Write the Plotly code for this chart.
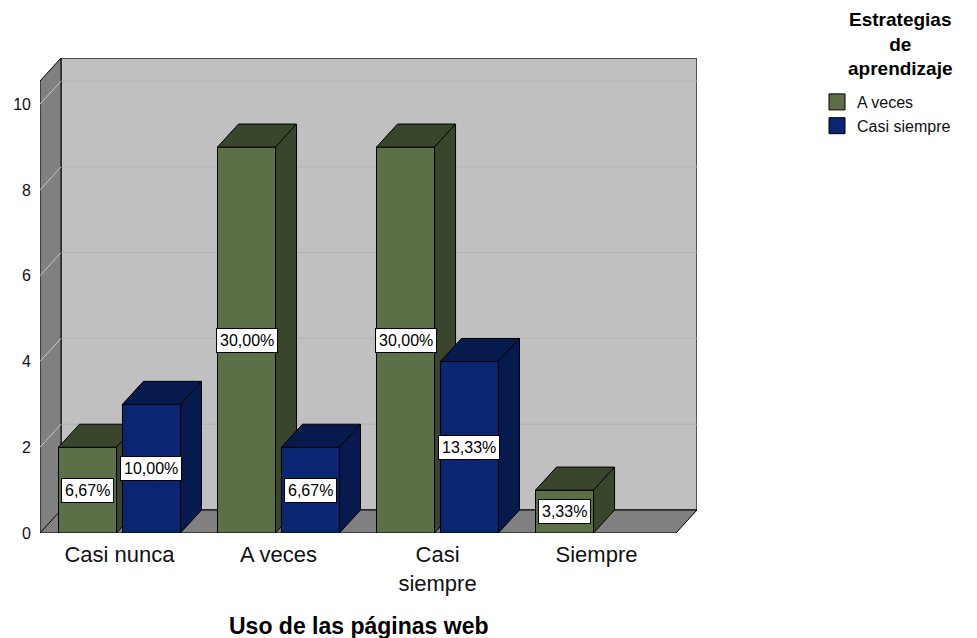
import plotly.graph_objects as go

# ---- data ----
categories = ["Casi nunca", "A veces", "Casi siempre", "Siempre"]
tick_labels = ["Casi nunca", "A veces", "Casi<br>siempre", "Siempre"]
series_names = ["A veces", "Casi siempre"]
a_veces = [2, 9, 9, 1]
casi_siempre = [3, 2, 4, 0]
y_ticks = [0, 2, 4, 6, 8, 10]
x_title = "Uso de las páginas web"
legend_title = "Estrategias<br>de<br>aprendizaje"

# ---- style ----
front_colors = ["#5B7046", "#0A2673"]
dark_colors = ["#3A462C", "#061A4E"]
WALL_BACK = "#C0C0C0"
WALL_SIDE = "#808080"
GRID_BACK = "#B2B2B2"
GRID_SIDE = "#C8C8C8"
DX = 0.132      # depth in category units
DY = 0.537      # depth in value units
BAR_W = 0.365
BAR_OFF = [-0.201, 0.201]
WALL_TOP = 10.54
X_LO, X_HI = -0.5, len(categories) - 0.5
FONT = "Liberation Sans, Arial, sans-serif"
W, H = 977, 638
ML, MR, MT, MB = 40, 280, 58, 105
PW, PH = W - ML - MR, H - MT - MB


def px_x(px):
    return (px - ML) / PW


def px_y(px):
    return 1 - (px - MT) / PH


series = [a_veces, casi_siempre]
total = sum(a_veces) + sum(casi_siempre)

fig = go.Figure()


def poly(pts, fill, line="black", width=1):
    xs = [p[0] for p in pts] + [pts[0][0]]
    ys = [p[1] for p in pts] + [pts[0][1]]
    fig.add_trace(go.Scatter(x=xs, y=ys, mode="lines", fill="toself",
                             fillcolor=fill, line=dict(color=line, width=width),
                             hoverinfo="skip", showlegend=False, cliponaxis=False))


def lines(segs, color, width=1):
    xs, ys = [], []
    for (a, b) in segs:
        xs += [a[0], b[0], None]
        ys += [a[1], b[1], None]
    fig.add_trace(go.Scatter(x=xs, y=ys, mode="lines",
                             line=dict(color=color, width=width),
                             hoverinfo="skip", showlegend=False, cliponaxis=False))


# back wall
poly([(X_LO + DX, DY), (X_HI + DX, DY), (X_HI + DX, WALL_TOP + DY), (X_LO + DX, WALL_TOP + DY)],
     WALL_BACK, "#303030", 1.5)
lines([((X_LO + DX, v + DY), (X_HI + DX, v + DY)) for v in y_ticks if v > 0], GRID_BACK)
# left wall
poly([(X_LO, 0), (X_LO + DX, DY), (X_LO + DX, WALL_TOP + DY), (X_LO, WALL_TOP)], WALL_SIDE)
lines([((X_LO, v), (X_LO + DX, v + DY)) for v in y_ticks], GRID_SIDE)
# floor
poly([(X_LO, 0), (X_HI, 0), (X_HI + DX, DY), (X_LO + DX, DY)], WALL_SIDE)

# bars (painter's order: left to right)
annotations = []
for i, cat in enumerate(categories):
    for s, vals in enumerate(series):
        v = vals[i]
        if v <= 0:
            continue
        x0 = i + BAR_OFF[s] - BAR_W / 2
        x1 = x0 + BAR_W
        poly([(x0, 0), (x1, 0), (x1, v), (x0, v)], front_colors[s])
        poly([(x0, v), (x1, v), (x1 + DX, v + DY), (x0 + DX, v + DY)], dark_colors[s])
        poly([(x1, 0), (x1 + DX, DY), (x1 + DX, v + DY), (x1, v)], dark_colors[s])
        pct = f"{v / total * 100:.2f}%".replace(".", ",")
        annotations.append(dict(x=(x0 + x1) / 2, y=v / 2, xref="x", yref="y",
                                text=pct, showarrow=False,
                                font=dict(family=FONT, size=16, color="black"),
                                bgcolor="white", bordercolor="black",
                                borderwidth=1, borderpad=3))

# legend entries
for s, name in enumerate(series_names):
    fig.add_trace(go.Scatter(x=[None], y=[None], mode="markers", name=name,
                             marker=dict(symbol="square", size=18, color=front_colors[s],
                                         line=dict(color="black", width=1))))

# x-axis title (centred under the front plane)
annotations.append(dict(x=(X_LO + X_HI) / 2, y=px_y(626), xref="x", yref="paper",
                        text=f"<b>{x_title}</b>", showarrow=False,
                        font=dict(family=FONT, size=23, color="black"),
                        xanchor="center", yanchor="middle"))
# legend title (centred lines)
annotations.append(dict(x=px_x(900), y=px_y(7), xref="paper", yref="paper",
                        text=f"<b>{legend_title}</b>", showarrow=False, align="center",
                        font=dict(family=FONT, size=19, color="black"),
                        xanchor="center", yanchor="top"))

fig.update_layout(
    width=W, height=H,
    margin=dict(l=ML, r=MR, t=MT, b=MB),
    paper_bgcolor="white", plot_bgcolor="white",
    font=dict(family=FONT, color="black"),
    xaxis=dict(range=[X_LO, X_HI + DX], tickvals=list(range(len(categories))),
               ticktext=tick_labels, showgrid=False, zeroline=False, showline=False,
               ticks="", ticklabelstandoff=6,
               tickfont=dict(family=FONT, size=22, color="#111111")),
    yaxis=dict(range=[0, WALL_TOP + DY], tickvals=y_ticks, showgrid=False,
               zeroline=False, showline=False, ticks="", ticklabelstandoff=8,
               tickfont=dict(family=FONT, size=16, color="#111111")),
    legend=dict(x=px_x(817), y=px_y(85), xanchor="left", yanchor="top",
                font=dict(family=FONT, size=16, color="#111111"),
                itemsizing="trace", tracegroupgap=0),
    annotations=annotations,
    showlegend=True,
)

fig.write_html("out.html", config={"displayModeBar": False},
               post_script="document.body.style.margin='0';")
